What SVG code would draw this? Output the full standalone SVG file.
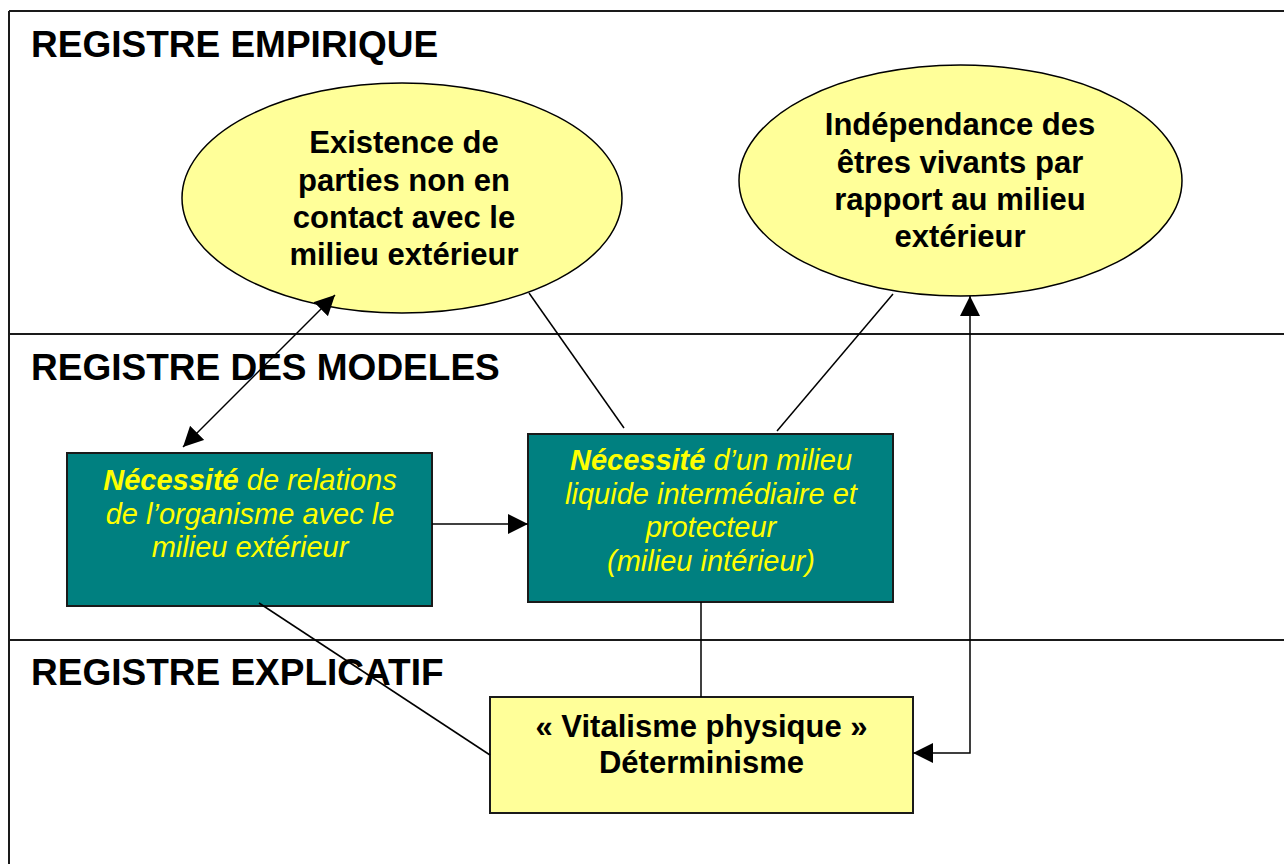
<svg xmlns="http://www.w3.org/2000/svg" width="1284" height="864" viewBox="0 0 1284 864">
<style>
.frame{stroke:#1a1a1a;stroke-width:2;fill:none}
.title{font-family:"Liberation Sans",Arial,sans-serif;font-weight:bold;font-size:37px;fill:#000}
.ell{fill:#FFFF99;stroke:#000;stroke-width:1.5}
.etxt{font-family:"Liberation Sans",Arial,sans-serif;font-weight:bold;font-size:31px;fill:#000;text-anchor:middle}
.teal{fill:#008080;stroke:#1a1a1a;stroke-width:2}
.ttxt{font-family:"Liberation Sans",Arial,sans-serif;font-style:italic;font-size:29px;fill:#FFFF00;text-anchor:middle}
.ttxt .b{font-weight:bold}
.ybox{fill:#FFFF99;stroke:#1a1a1a;stroke-width:2}
.conn{stroke:#000;stroke-width:1.5;fill:none}
</style>
<defs>
<marker id="ah" viewBox="0 0 20 20" refX="20" refY="10" markerWidth="20" markerHeight="20" markerUnits="userSpaceOnUse" orient="auto-start-reverse">
<path d="M0,0 L20,10 L0,20 z" fill="#000"/>
</marker>
</defs>
<rect width="1284" height="864" fill="#fff"/>
<g id="frame">
<line class="frame" x1="9" y1="11" x2="1284" y2="11"/>
<line class="frame" x1="9" y1="11" x2="9" y2="864"/>
<line class="frame" x1="9" y1="334" x2="1284" y2="334"/>
<line class="frame" x1="9" y1="640" x2="1284" y2="640"/>
</g>
<g id="titles">
<text class="title" x="31" y="57">REGISTRE EMPIRIQUE</text>
<text class="title" x="31" y="380">REGISTRE DES MODELES</text>
<text class="title" x="31" y="685">REGISTRE EXPLICATIF</text>
</g>
<g id="existence">
<ellipse class="ell" cx="402" cy="198" rx="220" ry="115"/>
<text class="etxt" x="404" y="153">Existence de</text>
<text class="etxt" x="404" y="191">parties non en</text>
<text class="etxt" x="404" y="228">contact avec le</text>
<text class="etxt" x="404" y="265">milieu extérieur</text>
</g>
<g id="independance">
<ellipse class="ell" cx="960.5" cy="180.5" rx="221.5" ry="115.5"/>
<text class="etxt" x="960" y="135">Indépendance des</text>
<text class="etxt" x="960" y="172.5">êtres vivants par</text>
<text class="etxt" x="960" y="210">rapport au milieu</text>
<text class="etxt" x="960" y="247">extérieur</text>
</g>
<g id="relations">
<rect class="teal" x="67" y="453" width="365" height="153"/>
<text class="ttxt" x="250" y="490"><tspan class="b">Nécessité</tspan> de relations</text>
<text class="ttxt" x="250" y="523.5">de l’organisme avec le</text>
<text class="ttxt" x="250" y="557">milieu extérieur</text>
</g>
<g id="milieu-interieur">
<rect class="teal" x="528" y="434" width="365" height="168"/>
<text class="ttxt" x="711" y="470"><tspan class="b">Nécessité</tspan> d’un milieu</text>
<text class="ttxt" x="711" y="503.5">liquide intermédiaire et</text>
<text class="ttxt" x="711" y="537">protecteur</text>
<text class="ttxt" x="711" y="570.5">(milieu intérieur)</text>
</g>
<g id="vitalisme">
<rect class="ybox" x="490" y="697" width="423" height="116"/>
<text class="etxt" x="701.5" y="737">« Vitalisme physique »</text>
<text class="etxt" x="701.5" y="773">Déterminisme</text>
</g>
<g id="connectors">
<line class="conn" x1="183" y1="447" x2="335" y2="295" marker-start="url(#ah)" marker-end="url(#ah)"/>
<line class="conn" x1="529" y1="293" x2="624" y2="428"/>
<line class="conn" x1="893" y1="294" x2="777" y2="431"/>
<line class="conn" x1="432" y1="524" x2="528" y2="524" marker-end="url(#ah)"/>
<line class="conn" x1="701" y1="602" x2="701" y2="697"/>
<line class="conn" x1="259" y1="603" x2="490" y2="755"/>
<polyline class="conn" points="913,753 970,753 970,296" marker-start="url(#ah)" marker-end="url(#ah)"/>
</g>
</svg>
